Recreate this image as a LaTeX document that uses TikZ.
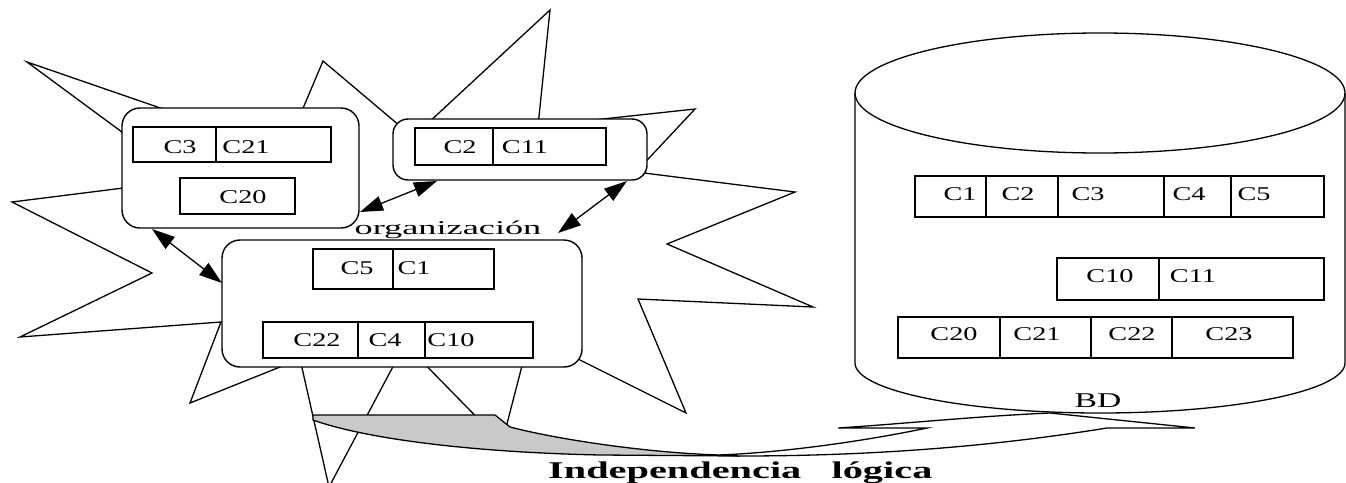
\documentclass[tikz,border=0pt]{standalone}
\usepackage{fontspec}
\setmainfont{Liberation Serif}
\usetikzlibrary{arrows.meta}

% horizontally widened text
\newcommand\wx[2]{\scalebox{#1}[1]{#2}}

\tikzset{
  line/.style={line width=1.3pt, line join=miter},
  rbox/.style={draw, line width=1.4pt, fill=white, rectangle, inner sep=0pt},
  cellframe/.style={draw, line width=1.4pt, rectangle, inner sep=0pt},
  celltext/.style={inner sep=0pt, font=\fontsize{19.5}{20}\selectfont},
  link/.style={line width=1.3pt, {Triangle[length=23pt,width=15pt]}-{Triangle[length=23pt,width=15pt]}},
  band/.style={line width=1.3pt, line join=miter},
}

% empty cell of a record, given by its corners
\newcommand\cellnode[5]{%
  \node[cellframe, minimum width={(#4-#2)*1pt}, minimum height={(#5-#3)*1pt}]
    (#1) at ({(#2+#4)/2},{(#3+#5)/2}) {};}
% field name inside a cell
\newcommand\celltxt[4]{\node[celltext] (#1) at (#2,#3) {\wx{1.45}{#4}};}

\begin{document}
\begin{tikzpicture}[x=1pt,y=-1pt]
\useasboundingbox (0,0) rectangle (1346,482);
\clip (0,0) rectangle (1346,482);

% the organisation: a jagged burst
\draw[line] (12,202) -- (187,180) -- (27,62) -- (285,151) -- (323,61)
  -- (413,137) -- (550,10) -- (538,126) -- (695,109) -- (636,172)
  -- (795,192) -- (667,244) -- (813,307) -- (638,299) -- (686,413)
  -- (530,335) -- (502,443) -- (405,344) -- (329,487) -- (300,359)
  -- (190,403) -- (221,322) -- (20,337) -- (152,273) -- cycle;

% applications
\node[rbox, rounded corners=18pt, minimum width=237pt, minimum height=120pt] (app1) at (240.5,168) {};
\node[rbox, rounded corners=15pt, minimum width=254pt, minimum height=61pt] (app2) at (520,149.5) {};
\node[rbox, rounded corners=18pt, minimum width=360pt, minimum height=127pt] (app3) at (402,303.5) {};

% records of application 1
\cellnode{a-c3}{133}{127}{216}{162}
\cellnode{a-c21}{216}{127}{331}{162}
\cellnode{a-c20}{180}{178}{295}{214}
\celltxt{ta-c3}{180}{147}{C3}
\celltxt{ta-c21}{246}{147}{C21}
\celltxt{ta-c20}{243}{197}{C20}

% records of application 2
\cellnode{b-c2}{415}{128}{493}{165}
\cellnode{b-c11}{493}{128}{606}{165}
\celltxt{tb-c2}{460}{147}{C2}
\celltxt{tb-c11}{525}{147}{C11}

% records of application 3
\cellnode{c-c5}{313}{249}{393}{289}
\cellnode{c-c1}{393}{249}{494}{289}
\cellnode{c-c22}{263}{322}{358}{358}
\cellnode{c-c4}{358}{322}{425}{358}
\cellnode{c-c10}{425}{322}{533}{358}
\celltxt{tc-c5}{357}{268}{C5}
\celltxt{tc-c1}{414}{268}{C1}
\celltxt{tc-c22}{317}{340}{C22}
\celltxt{tc-c4}{385}{340}{C4}
\celltxt{tc-c10}{451}{340}{C10}

% exchanges between applications
\coordinate (l1a) at (360,212);
\coordinate (l1b) at (437,181);
\coordinate (l2a) at (627,181);
\coordinate (l2b) at (558,233);
\coordinate (l3a) at (152,229);
\coordinate (l3b) at (222,283);
\draw[link] (l1a) -- (l1b);
\draw[link] (l2a) -- (l2b);
\draw[link] (l3a) -- (l3b);

\node[inner sep=0pt, anchor=base, font=\fontsize{19.5}{20}\selectfont] (org) at (448,234) {\wx{1.86}{organización}};

% curved arrow towards the database: shaded back face, then the front
\filldraw[band, fill=black!21] (313,415) -- (495,415) -- (510,427)
  .. controls (560,440) and (650,453) .. (720,455) -- (740,456) -- (600,455)
  .. controls (460,452) and (360,437) .. (313,420) -- cycle;
\filldraw[band, fill=white] (720,455) .. controls (790,452) and (870,440) .. (927,428)
  -- (838,428) .. controls (900,424) and (980,416) .. (1050,413) -- (1195,428)
  -- (1107,428) .. controls (1020,442) and (900,456) .. (740,456) -- cycle;

% database cylinder
\draw[line] (855,93) -- (855,363) arc[start angle=180, end angle=0, x radius=245, y radius=50] -- (1345,93);
\draw[line] (1100,93) ellipse[x radius=245, y radius=60];

% stored records
\cellnode{d-c1}{915}{176}{986}{217}
\cellnode{d-c2}{986}{176}{1058}{217}
\cellnode{d-c3}{1058}{176}{1164}{217}
\cellnode{d-c4}{1164}{176}{1231}{217}
\cellnode{d-c5}{1231}{176}{1324}{217}
\celltxt{td-c1}{960}{194}{C1}
\celltxt{td-c2}{1018}{194}{C2}
\celltxt{td-c3}{1088}{194}{C3}
\celltxt{td-c4}{1189}{194}{C4}
\celltxt{td-c5}{1254}{194}{C5}

\cellnode{d-c10}{1057}{258}{1159}{300}
\cellnode{d-c11}{1159}{258}{1324}{300}
\celltxt{td-c10}{1110}{276}{C10}
\celltxt{td-c11}{1193}{276}{C11}

\cellnode{d-c20}{898}{317}{1000}{358}
\cellnode{d-c21}{1000}{317}{1091}{358}
\cellnode{d-c22}{1091}{317}{1172}{358}
\cellnode{d-c23}{1172}{317}{1293}{358}
\celltxt{td-c20}{954}{334}{C20}
\celltxt{td-c21}{1037}{334}{C21}
\celltxt{td-c22}{1132}{334}{C22}
\celltxt{td-c23}{1229}{334}{C23}

\node[inner sep=0pt, anchor=base, font=\fontsize{21}{22}\selectfont] (bd) at (1098,407) {\wx{1.6}{BD}};

\node[inner sep=0pt, anchor=base west, font=\bfseries\fontsize{24}{26}\selectfont] (indep) at (548,478)
  {\wx{1.68}{Independencia\hspace{0.75em}lógica}};
\end{tikzpicture}
\end{document}
